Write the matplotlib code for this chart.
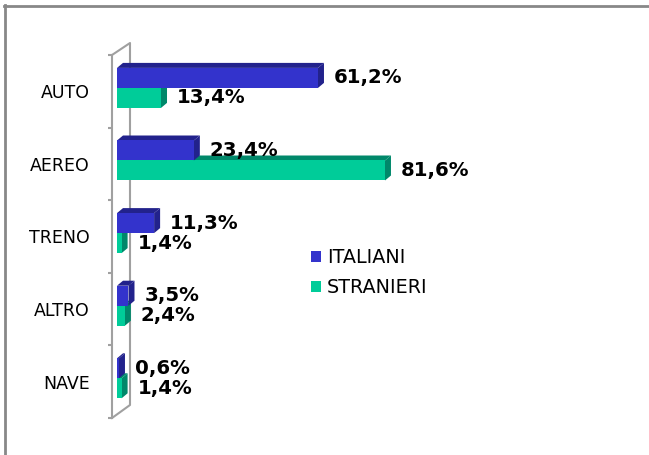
import matplotlib
matplotlib.use("Agg")
import matplotlib.pyplot as plt
from matplotlib.patches import Polygon, Patch
from matplotlib.lines import Line2D
import numpy as np

categories = ["AUTO", "AEREO", "TRENO", "ALTRO", "NAVE"]
italiani = [61.2, 23.4, 11.3, 3.5, 0.6]
stranieri = [13.4, 81.6, 1.4, 2.4, 1.4]
series_names = ["ITALIANI", "STRANIERI"]

W, H = 649, 455
fig = plt.figure(figsize=(W / 100, H / 100), dpi=100)
fig.patch.set_facecolor("white")

# axes region (pixels)
axL, axR, axT, axB = 112, 600, 55, 418
ax = fig.add_axes([axL / W, 1 - axB / H, (axR - axL) / W, (axB - axT) / H])
pxx = 3.284  # pixels per percent
x0px = 117
ax.set_xlim(-(x0px - axL) / pxx, (axR - x0px) / pxx)
n = len(categories)
ax.set_ylim(n - 0.5, -0.5)
pxy = (axB - axT) / n

def fx(px):
    return (px - x0px) / pxx

def fy(py):
    return -0.5 + (py - axT) / pxy

blue_front, blue_dark = "#3333CC", "#22228C"
green_front, green_dark = "#00CC99", "#00886A"

h = 20 / pxy
shift = -3.4 / pxy
dx = 6 / pxx
dy = -5 / pxy
ypos = np.arange(n)

def bar3d(y_top, vals, front, dark, z):
    ax.barh(y_top, vals, height=h, left=0, align="edge", color=front,
            edgecolor="none", zorder=z + 1)
    for yt, v in zip(y_top, vals):
        yb = yt + h
        top = Polygon([(0, yt), (v, yt), (v + dx, yt + dy), (dx, yt + dy)],
                      closed=True, facecolor=dark, edgecolor="none", zorder=z)
        side = Polygon([(v, yt), (v + dx, yt + dy), (v + dx, yb + dy), (v, yb)],
                       closed=True, facecolor=dark, edgecolor="none", zorder=z)
        ax.add_patch(top)
        ax.add_patch(side)

# green (lower) first, blue (upper) drawn over it
bar3d(ypos + shift, stranieri, green_front, green_dark, 2)
bar3d(ypos + shift - h, italiani, blue_front, blue_dark, 4)

def fmt(v):
    return ("%.1f%%" % v).replace(".", ",")

for i in range(n):
    ax.annotate(fmt(italiani[i]), xy=(italiani[i] + dx, ypos[i] + shift - h / 2),
                xytext=(7, 0), textcoords="offset points", va="center", ha="left",
                fontsize=14.2, fontweight="bold", color="black", zorder=10)
    ax.annotate(fmt(stranieri[i]), xy=(stranieri[i] + dx, ypos[i] + shift + h / 2),
                xytext=(7, 0), textcoords="offset points", va="center", ha="left",
                fontsize=14.2, fontweight="bold", color="black", zorder=10)

# axes styling
for s in ["top", "right", "bottom"]:
    ax.spines[s].set_visible(False)
ax.spines["left"].set_color("#A0A0A0")
ax.spines["left"].set_linewidth(1.5)
ax.set_xticks([])
ax.set_yticks(ypos)
ax.set_yticklabels(categories, fontsize=12.5)
ax.tick_params(axis="y", which="major", length=0, pad=16)
ax.set_yticks(np.arange(n + 1) - 0.5, minor=True)
ax.tick_params(axis="y", which="minor", length=3, width=1.5, color="#A0A0A0")
ax.patch.set_alpha(0)

# back wall lines
wall = Line2D([fx(112), fx(130), fx(130), fx(112)],
              [fy(55), fy(43), fy(405), fy(418)],
              color="#A0A0A0", lw=1.5, clip_on=False, zorder=1)
ax.add_line(wall)

# legend
handles = [Patch(facecolor=blue_front, edgecolor="none"),
           Patch(facecolor=green_front, edgecolor="none")]
fig.legend(handles, series_names, loc="upper left",
           bbox_to_anchor=(311 / W, 1 - 248 / H), frameon=False,
           fontsize=13.8, handlelength=0.52, handleheight=0.52,
           handletextpad=0.3, labelspacing=0.58, borderpad=0, borderaxespad=0)

# outer border (top and left)
fig.add_artist(Line2D([4 / W, 1], [1 - 6 / H, 1 - 6 / H], color="#888888", lw=2,
                      transform=fig.transFigure))
fig.add_artist(Line2D([5 / W, 5 / W], [1 - 5 / H, 0], color="#888888", lw=2,
                      transform=fig.transFigure))

fig.savefig("out.png", dpi=100, facecolor="white")
